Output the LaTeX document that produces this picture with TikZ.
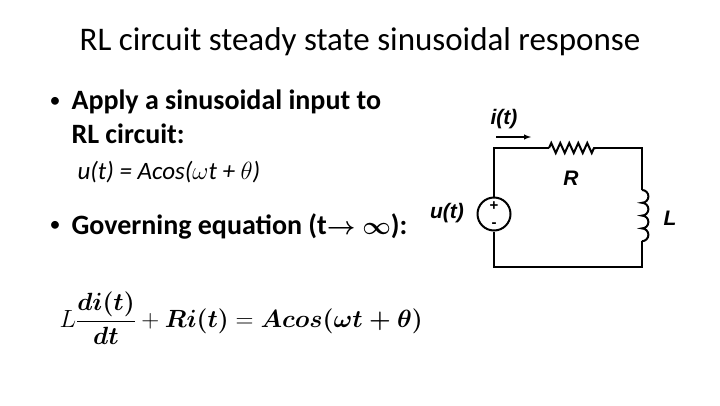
\documentclass[tikz,border=0pt]{standalone}
\usepackage{amsmath,amsbsy}
\usepackage{fontspec}
\setmainfont{Carlito}
\newfontfamily\arialf{Liberation Sans}
\usetikzlibrary{decorations.pathmorphing}
\tikzset{wire/.style={line width=2pt},
lbl/.style={font=\arialf\bfseries\itshape\fontsize{21}{21}\selectfont}}
\begin{document}
\begin{tikzpicture}[x=1pt,y=-1pt]
\useasboundingbox (0,0) rectangle (720,405);
\node (title) at (360,42) {\fontsize{33}{35}\selectfont RL circuit steady state sinusoidal response};
\node[anchor=west] (bul1) at (46,102) {\fontsize{22}{30}\selectfont •};
\node[anchor=west] (b1) at (68,102) {\fontsize{28}{30}\selectfont\bfseries Apply a sinusoidal input to};
\node[anchor=west] (b1b) at (68,134) {\fontsize{28}{30}\selectfont\bfseries RL circuit:};
\node[anchor=west] (ut) at (74,172) {\fontsize{25}{27}\selectfont\itshape u(t) = Acos($\omega$t + $\theta$)};
\node[anchor=west] (bul2) at (46,226) {\fontsize{22}{30}\selectfont •};
\node[anchor=west] (b2) at (68,226) {\fontsize{28}{30}\selectfont\bfseries Governing equation (t$\boldsymbol{\rightarrow}\boldsymbol{\infty}$):};
\node[anchor=west] (eq) at (56,318) {\fontsize{23}{26}\selectfont $L\dfrac{\boldsymbol{di(t)}}{\boldsymbol{dt}}+\boldsymbol{Ri(t)}=\boldsymbol{Acos(\omega t+\theta)}$};
% circuit
\coordinate (tl) at (494,148); \coordinate (tr) at (642,148);
\coordinate (bl) at (494,267); \coordinate (br) at (642,267);
\coordinate (r1) at (549,148); \coordinate (r2) at (596,148);
\coordinate (l1) at (642,190); \coordinate (l2) at (642,241);
\node[circle,draw,line width=2pt,minimum size=33pt,inner sep=0pt] (src) at (494,214) {};
\node[font=\arialf\bfseries\fontsize{15}{15}\selectfont,inner sep=0pt] (plus) at (494,206) {+};
\node[font=\arialf\bfseries\fontsize{15}{15}\selectfont,inner sep=0pt] (minus) at (494,225) {-};
\draw[wire] (src.north) -- (tl) -- (r1);
\draw[wire,decorate,decoration={zigzag,segment length=9pt,amplitude=5pt}] (r1) -- (r2);
\draw[wire] (r2) -- (tr) -- (l1);
\draw[wire] (l1) \foreach \k in {0,1,2,3} { arc[start angle=90,end angle=-90,radius=6.4pt] } ;
\draw[wire] (l2) -- (br) -- (bl) -- (src.south);
\node[lbl] (it) at (504,119) {i(t)};
\coordinate (a1) at (496,137); \coordinate (a2) at (531,137);
\draw[line width=1.4pt,-{latex}] (a1) -- (a2);
\node[lbl] (R) at (571,178) {R};
\node[lbl] (L) at (670,218) {L};
\node[lbl] (u) at (447,213) {u(t)};
\end{tikzpicture}
\end{document}
